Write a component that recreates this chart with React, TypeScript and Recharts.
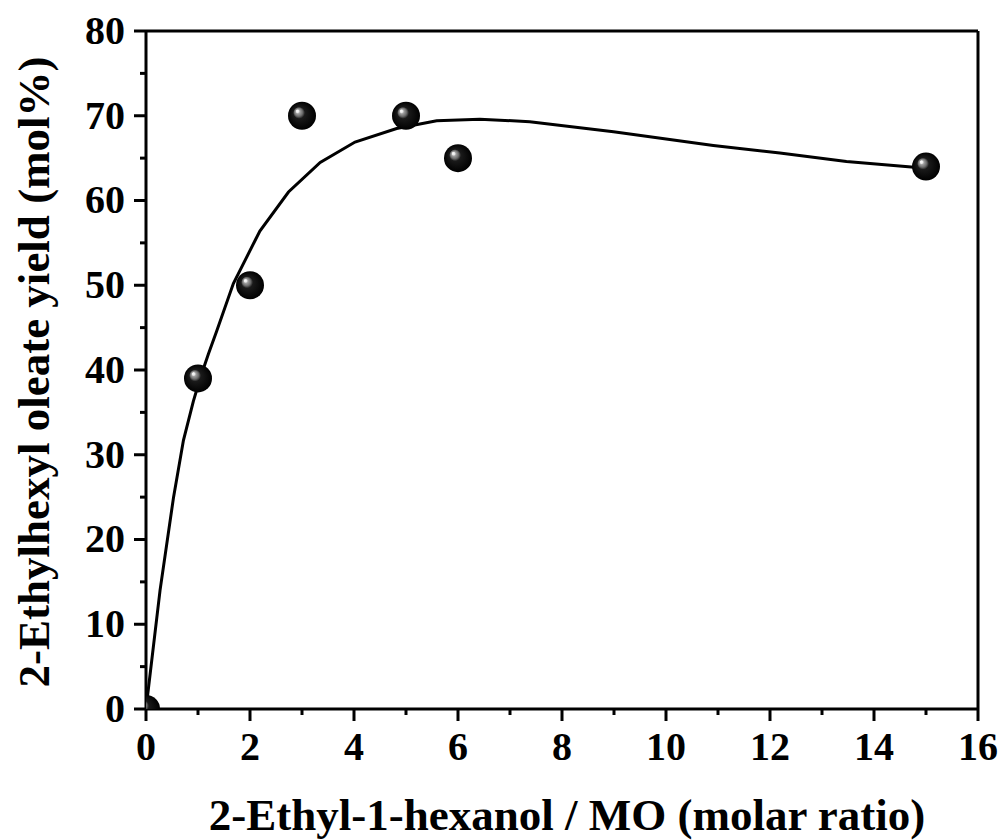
import {
  ComposedChart,
  Line,
  Scatter,
  XAxis,
  YAxis,
  ReferenceLine,
  Label,
} from "recharts";

// measured points
const ratio = [0, 1, 2, 3, 5, 6, 15];
const yieldPct = [0, 39, 50, 70, 70, 65, 64];

// fitted curve
const fitRatio = [0, 0.27, 0.53, 0.72, 0.91, 1.04, 1.2, 1.36, 1.68, 2.19, 2.74, 3.35, 4.02, 4.82, 5.59, 6.42, 7.38, 8.99, 10.91, 12.19, 13.47, 15];
const fitYield = [0, 14, 25, 31.7, 36.3, 39.0, 41.9, 44.6, 50.2, 56.4, 61.0, 64.5, 66.9, 68.5, 69.4, 69.6, 69.3, 68.1, 66.5, 65.6, 64.6, 63.8];

const xTicks = [0, 1, 2, 3, 4, 5, 6, 7, 8, 9, 10, 11, 12, 13, 14, 15, 16];
const yTicks = [0, 5, 10, 15, 20, 25, 30, 35, 40, 45, 50, 55, 60, 65, 70, 75, 80];
const xLabelStep = 2;
const yLabelStep = 10;

const xTitle = "2-Ethyl-1-hexanol / MO (molar ratio)";
const yTitle = "2-Ethylhexyl oleate yield (mol%)";

const points = ratio.map((x, i) => ({ x, y: yieldPct[i] }));
const fit = fitRatio.map((x, i) => ({ x, y: fitYield[i] }));

const FONT = '"Times New Roman", "Liberation Serif", serif';

function XTick(props: any) {
  const { x, y, payload } = props;
  const major = payload.value % xLabelStep === 0;
  return (
    <g>
      <line x1={x} x2={x} y1={y} y2={y + (major ? 12 : 6)} stroke="#000" strokeWidth={3} />
      {major && (
        <text x={x} y={y + 51} textAnchor="middle" fontFamily={FONT} fontWeight="bold" fontSize={40} fill="#000">
          {payload.value}
        </text>
      )}
    </g>
  );
}

function YTick(props: any) {
  const { x, y, payload } = props;
  const major = payload.value % yLabelStep === 0;
  return (
    <g>
      <line x1={x} x2={x - (major ? 12 : 6)} y1={y} y2={y} stroke="#000" strokeWidth={3} />
      {major && (
        <text x={x - 21} y={y} dy="0.32em" textAnchor="end" fontFamily={FONT} fontWeight="bold" fontSize={40} fill="#000">
          {payload.value}
        </text>
      )}
    </g>
  );
}

function Ball(props: any) {
  const { cx, cy } = props;
  if (cx == null || cy == null) return null;
  return <circle cx={cx} cy={cy} r={14} fill="url(#ball)" />;
}

export default function App() {
  return (
    <div style={{ position: "absolute", left: 0, top: 0, width: 1002, height: 840, background: "#fff" }}>
      <ComposedChart width={1002} height={840} margin={{ top: 31, right: 24, bottom: 0, left: 0 }}>
        <defs>
          <radialGradient id="ball" cx="0.5" cy="0.5" r="0.5" fx="0.32" fy="0.32">
            <stop offset="0%" stopColor="#ffffff" />
            <stop offset="10%" stopColor="#e8e8e8" />
            <stop offset="16%" stopColor="#a0a0a0" />
            <stop offset="30%" stopColor="#6a6a6a" />
            <stop offset="42%" stopColor="#1a1a1a" />
            <stop offset="100%" stopColor="#000000" />
          </radialGradient>
        </defs>
        <XAxis
          type="number"
          dataKey="x"
          domain={[0, 16]}
          ticks={xTicks}
          interval={0}
          allowDataOverflow
          height={131}
          tickSize={0}
          tickMargin={0}
          tickLine={false}
          axisLine={{ stroke: "#000", strokeWidth: 3 }}
          tick={<XTick />}
        >
          <Label
            content={(p: any) => {
              const vb = p.viewBox;
              return (
                <text x={vb.x + vb.width / 2 + 5} y={vb.y + 121} textAnchor="middle" fontFamily={FONT} fontWeight="bold" fontSize={45} fill="#000">
                  {xTitle}
                </text>
              );
            }}
          />
        </XAxis>
        <YAxis
          type="number"
          dataKey="y"
          domain={[0, 80]}
          ticks={yTicks}
          interval={0}
          allowDataOverflow
          width={146}
          tickSize={0}
          tickMargin={0}
          tickLine={false}
          axisLine={{ stroke: "#000", strokeWidth: 3 }}
          tick={<YTick />}
        >
          <Label
            content={(p: any) => {
              const vb = p.viewBox;
              const cy = vb.y + vb.height / 2 + 2;
              return (
                <text x={49} y={cy} transform={`rotate(-90, 49, ${cy})`} textAnchor="middle" fontFamily={FONT} fontWeight="bold" fontSize={45} fill="#000">
                  {yTitle}
                </text>
              );
            }}
          />
        </YAxis>
        <ReferenceLine y={80} stroke="#000" strokeWidth={3} />
        <ReferenceLine x={16} stroke="#000" strokeWidth={3} />
        <Line data={fit} dataKey="y" type="linear" stroke="#000" strokeWidth={3} dot={false} activeDot={false} isAnimationActive={false} />
        <Scatter data={points} dataKey="y" shape={<Ball />} isAnimationActive={false} />
      </ComposedChart>
    </div>
  );
}
